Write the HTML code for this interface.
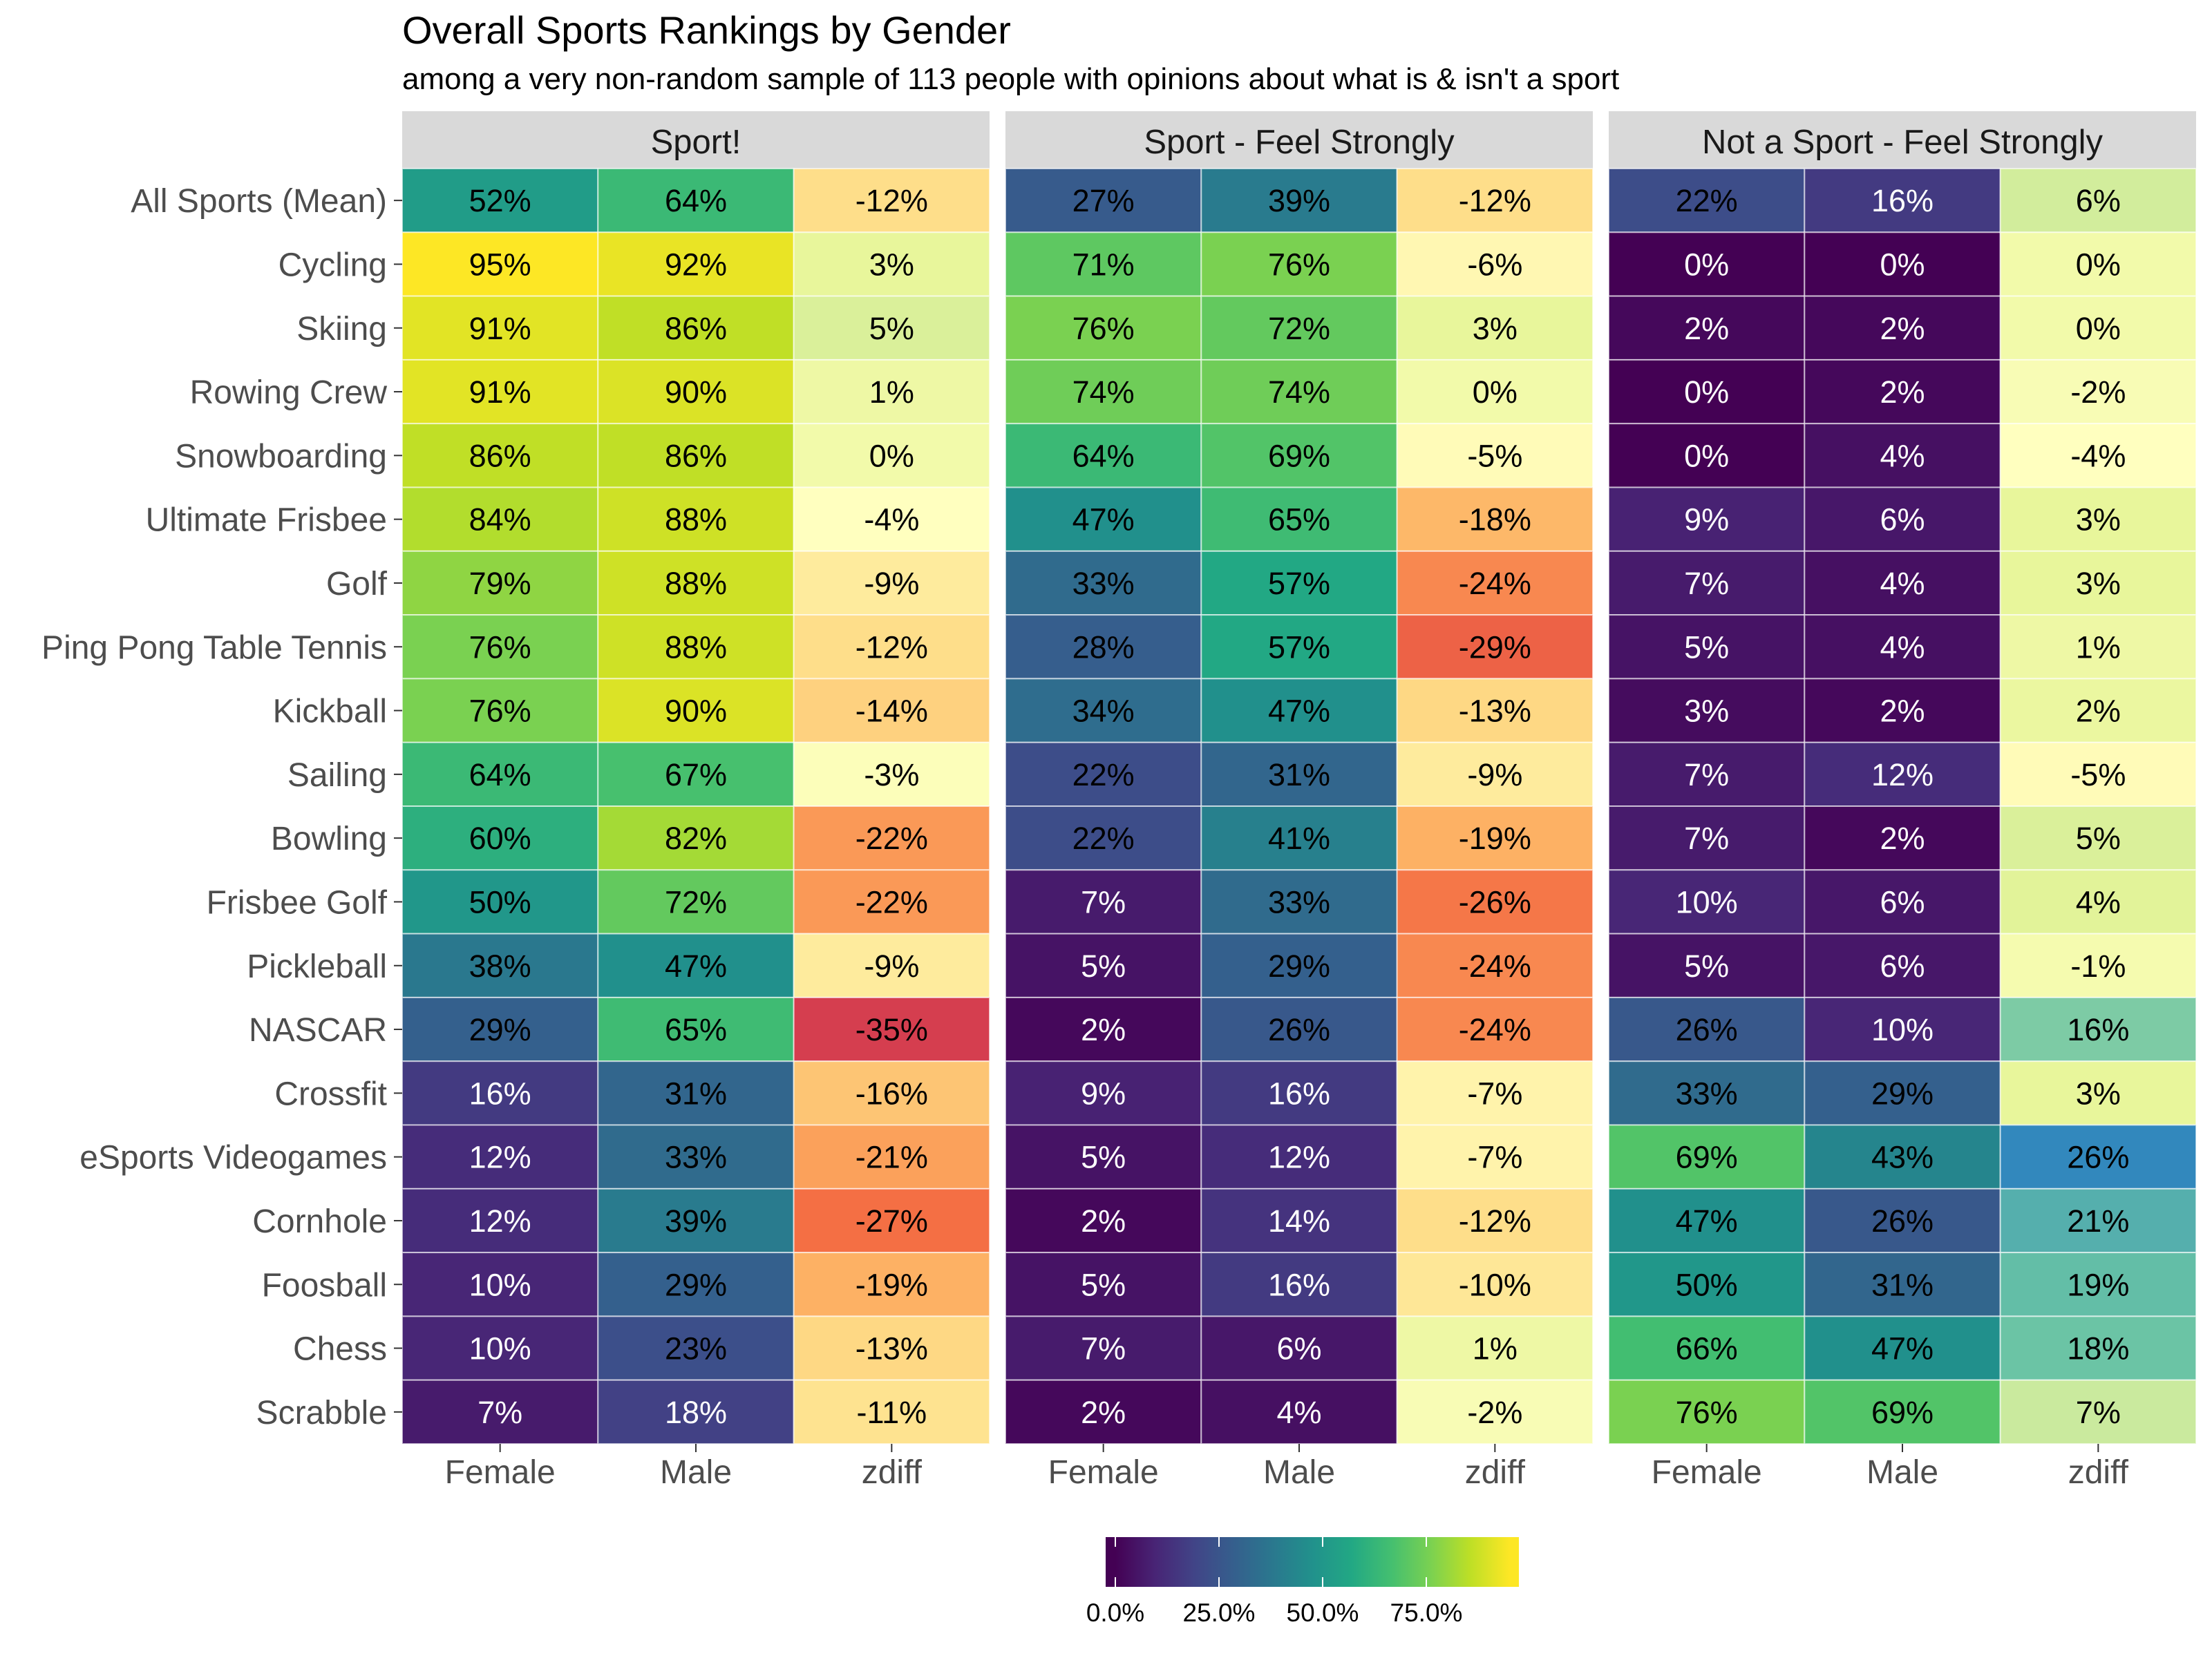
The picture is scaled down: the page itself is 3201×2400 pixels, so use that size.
<!DOCTYPE html>
<html><head><meta charset="utf-8"><style>
html,body{margin:0;padding:0;background:#fff;}
svg{display:block;font-family:"Liberation Sans",Arial,sans-serif;}
</style></head><body>
<svg id="chart" width="3201" height="2400" viewBox="0 0 3201 2400" xmlns="http://www.w3.org/2000/svg">
<text x="582" y="63" font-size="56" fill="#000">Overall Sports Rankings by Gender</text>
<text x="582" y="129" font-size="44" fill="#000">among a very non-random sample of 113 people with opinions about what is &amp; isn't a sport</text>
<g id="plot"></g>
<defs>
<linearGradient id="vir" x1="0" x2="1" y1="0" y2="0">
<stop offset="0" stop-color="#440154"/><stop offset="0.1" stop-color="#482475"/><stop offset="0.2" stop-color="#414487"/><stop offset="0.3" stop-color="#355f8d"/><stop offset="0.4" stop-color="#2a788e"/><stop offset="0.5" stop-color="#21918c"/><stop offset="0.6" stop-color="#22a884"/><stop offset="0.7" stop-color="#44bf70"/><stop offset="0.8" stop-color="#7ad151"/><stop offset="0.9" stop-color="#bddf26"/><stop offset="1" stop-color="#fde725"/>
</linearGradient>
</defs>
<g id="legend"></g>
</svg>
<script>
const sports = ["All Sports (Mean)","Cycling","Skiing","Rowing Crew","Snowboarding","Ultimate Frisbee","Golf","Ping Pong Table Tennis","Kickball","Sailing","Bowling","Frisbee Golf","Pickleball","NASCAR","Crossfit","eSports Videogames","Cornhole","Foosball","Chess","Scrabble"];
const panels = ["Sport!","Sport - Feel Strongly","Not a Sport - Feel Strongly"];
const columns = ["Female","Male","zdiff"];
const sportFemale = [52,95,91,91,86,84,79,76,76,64,60,50,38,29,16,12,12,10,10,7];
const sportMale   = [64,92,86,90,86,88,88,88,90,67,82,72,47,65,31,33,39,29,23,18];
const sportZdiff  = [-12,3,5,1,0,-4,-9,-12,-14,-3,-22,-22,-9,-35,-16,-21,-27,-19,-13,-11];
const strongFemale = [27,71,76,74,64,47,33,28,34,22,22,7,5,2,9,5,2,5,7,2];
const strongMale   = [39,76,72,74,69,65,57,57,47,31,41,33,29,26,16,12,14,16,6,4];
const strongZdiff  = [-12,-6,3,0,-5,-18,-24,-29,-13,-9,-19,-26,-24,-24,-7,-7,-12,-10,1,-2];
const notFemale = [22,0,2,0,0,9,7,5,3,7,7,10,5,26,33,69,47,50,66,76];
const notMale   = [16,0,2,2,4,6,4,4,2,12,2,6,6,10,29,43,26,31,47,69];
const notZdiff  = [6,0,0,-2,-4,3,3,1,2,-5,5,4,-1,16,3,26,21,19,18,7];
const legendTicks = [0,25,50,75];
const legendLabels = ["0.0%","25.0%","50.0%","75.0%"];

const panelData = [[sportFemale,sportMale,sportZdiff],[strongFemale,strongMale,strongZdiff],[notFemale,notMale,notZdiff]];
const NS="http://www.w3.org/2000/svg";
const VIR=["#440154","#482475","#414487","#355f8d","#2a788e","#21918c","#22a884","#44bf70","#7ad151","#bddf26","#fde725"];
function hex(h){return [1,3,5].map(i=>parseInt(h.substr(i,2),16));}
function mix(a,b,t){const A=hex(a),B=hex(b);return "rgb("+A.map((v,i)=>Math.round(v+(B[i]-v)*t)).join(",")+")";}
function ramp(stops,t){t=Math.max(0,Math.min(1,t));const n=stops.length-1;const i=Math.min(n-1,Math.floor(t*n));return mix(stops[i],stops[i+1],t*n-i);}
const vmax=95;
function viridis(v){return ramp(VIR,v/vmax);}
const NEG=["#ffffbf","#fee08b","#fdae61","#f46d43","#d53e4f"];
const POS=["#ffffbf","#e6f598","#abdda4","#66c2a5","#3288bd"];
const dmid=-4,dmin=-35,dmax=26;
function divColor(v){return v<dmid?ramp(NEG,(dmid-v)/(dmid-dmin)):ramp(POS,(v-dmid)/(dmax-dmid));}
const panelX=[582,1455,2328], panelW=850, gridTop=244, rowH=92.3, stripTop=161;
const colW=panelW/3;
function xScale(p,c){return panelX[p]+c*colW;}
function yScale(r){return gridTop+r*rowH;}
function el(tag,attrs,parent,text){const e=document.createElementNS(NS,tag);for(const k in attrs)e.setAttribute(k,attrs[k]);if(text!==undefined)e.textContent=text;parent.appendChild(e);return e;}
const plot=document.getElementById('plot');
panels.forEach((pn,p)=>{
  const g=el('g',{},plot);
  
  
  const s=el('rect',{x:panelX[p],y:stripTop,width:panelW,height:gridTop-stripTop,fill:'#d9d9d9'},g);
  
  
  const st=el('text',{x:panelX[p]+panelW/2,y:222,'font-size':49,fill:'#1a1a1a','text-anchor':'middle'},g,pn);
  
  
  columns.forEach((cn,c)=>{
    const arr=panelData[p][c];
    sports.forEach((sp,r)=>{
      const v=arr[r];
      const fill=c<2?viridis(v):divColor(v);
      const rc=el('rect',{x:xScale(p,c),y:yScale(r),width:colW,height:rowH,fill:fill,stroke:'rgba(255,255,255,0.6)','stroke-width':2},g);
      
      
      const tc=(c<2&&v<22)?'#fff':'#000';
      const t=el('text',{x:xScale(p,c)+colW/2,y:yScale(r)+rowH/2+16,'font-size':45,fill:tc,'text-anchor':'middle'},g,v+'%');
      
      
    });
    const cx=xScale(p,c)+colW/2, yb=yScale(sports.length);
    const tk=el('line',{x1:cx,x2:cx,y1:yb,y2:yb+12,stroke:'#333','stroke-width':2},g);
    
    
    const xl=el('text',{x:cx,y:2147,'font-size':48,fill:'#4d4d4d','text-anchor':'middle'},g,cn);
    
    
  });
});
sports.forEach((sp,r)=>{
  const cy=yScale(r)+rowH/2;
  const yl=el('text',{x:560,y:cy+17,'font-size':48,fill:'#4d4d4d','text-anchor':'end'},plot,sp);
  
  
  const tk=el('line',{x1:570,x2:582,y1:cy,y2:cy,stroke:'#333','stroke-width':2},plot);
  
  
});
const lg=document.getElementById('legend');
const l0=1614, lPer=6.0, ly=2225, lh=72;
function lx(v){return l0+v*lPer;}
const lb=el('rect',{x:1600,y:ly,width:14,height:lh,fill:VIR[0]},lg);


const lbar=el('rect',{x:lx(0),y:ly,width:lx(vmax)-lx(0),height:lh,fill:'url(#vir)'},lg);


const le=el('rect',{x:lx(vmax),y:ly,width:14,height:lh,fill:VIR[10]},lg);


legendTicks.forEach((v,i)=>{
  const a=el('line',{x1:lx(v),x2:lx(v),y1:ly,y2:ly+14,stroke:'#fff','stroke-width':2},lg);
  
  
  const b=el('line',{x1:lx(v),x2:lx(v),y1:ly+lh-14,y2:ly+lh,stroke:'#fff','stroke-width':2},lg);
  
  
  const t=el('text',{x:lx(v),y:2347,'font-size':37,fill:'#000','text-anchor':'middle'},lg,legendLabels[i]);
  
  
});
</script>
</body></html>
